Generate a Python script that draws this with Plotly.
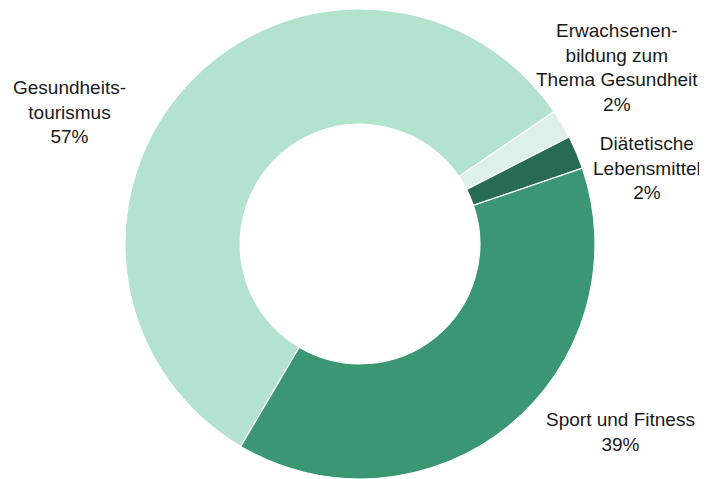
import plotly.graph_objects as go

categories = ["Gesundheits-<br>tourismus", "Erwachsenen-<br>bildung zum<br>Thema Gesundheit",
              "Diätetische<br>Lebensmittel", "Sport und Fitness"]
values = [57.0, 2.0, 2.3, 38.7]
colors = ["#b3e2cf", "#ddf1e8", "#276b50", "#3a9673"]

W, H = 707, 479
OFF = 8  # page body margin offset
fig = go.Figure(go.Pie(
    labels=categories, values=values, sort=False, direction="clockwise",
    rotation=210.5, hole=0.51, textinfo="none", hoverinfo="label+percent",
    marker=dict(colors=colors, line=dict(color="white", width=1.2)),
    domain=dict(x=[(125 - OFF) / W, (595 - OFF) / W],
                y=[1 - (479 - OFF) / H, 1 - (9 - OFF) / H]),
    showlegend=False,
))

total = sum(values)
label_pos = [(69, 112), (617, 67), (647, 168), (620, 432)]
for cat, v, (px, py) in zip(categories, values, label_pos):
    fig.add_annotation(
        x=(px - OFF) / W, y=1 - (py - OFF) / H, xref="paper", yref="paper",
        text=f"{cat}<br>{round(v / total * 100):.0f}%", showarrow=False,
        xanchor="center", yanchor="middle", align="center",
        font=dict(family="Liberation Sans, Arial", size=19, color="#1a1a1a"),
    )

fig.update_layout(width=W, height=H, margin=dict(l=0, r=0, t=0, b=0),
                  paper_bgcolor="white", plot_bgcolor="white")
fig.write_html("out.html")
